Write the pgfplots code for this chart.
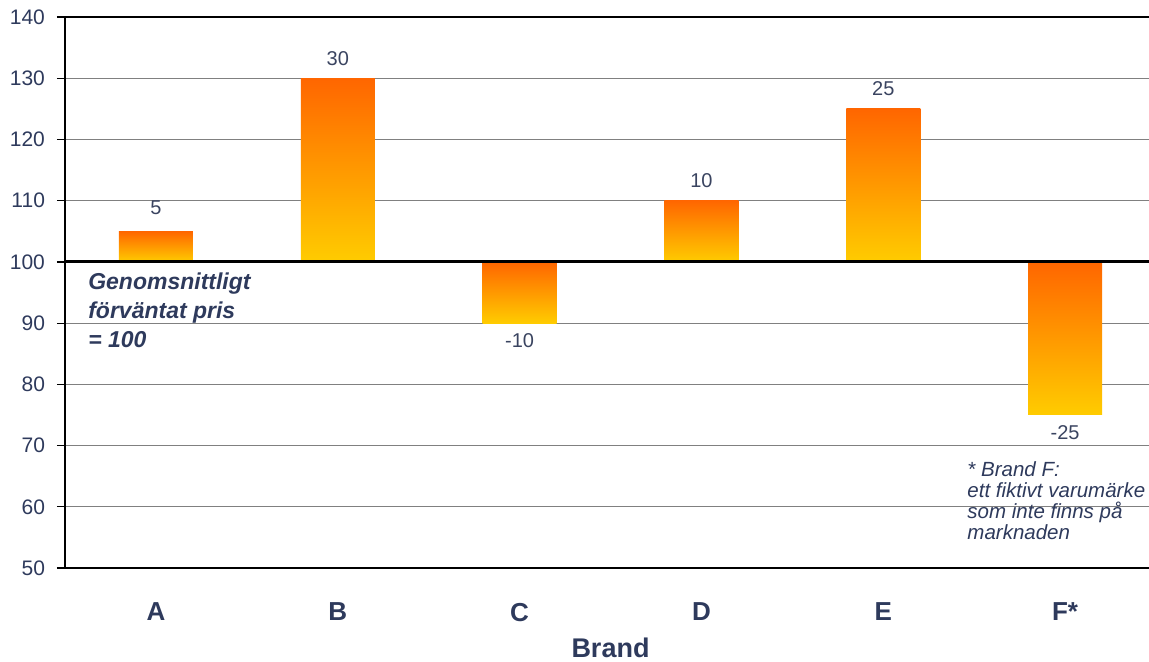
\documentclass[border=0pt]{standalone}
\usepackage{pgfplots}
\pgfplotsset{compat=1.18}
\usepackage{fontspec}
\setmainfont{Liberation Sans}
\definecolor{navy}{HTML}{2E3A5C}
\definecolor{valgray}{HTML}{3A4460}
\definecolor{topor}{HTML}{FF6600}
\definecolor{botyel}{HTML}{FFCC00}
\definecolor{gridg}{HTML}{808080}
\pgfplotsset{
  mybar/.style={ybar, bar width=0.407, bar shift=0pt, draw=none,
    shading=axis, top color=topor, bottom color=botyel,
    nodes near coords, point meta=explicit symbolic,
    every node near coord/.append style={font=\fontsize{10}{12}\selectfont, text=valgray, inner sep=5pt}},
  negbar/.style={mybar, every node near coord/.append style={anchor=north}},
  posbar/.style={mybar, every node near coord/.append style={anchor=south, inner sep=6.2pt}},
}
\begin{document}
\begin{tikzpicture}
\useasboundingbox (0,0) rectangle (574.5pt,330.5pt);
\clip (0,0) rectangle (574.5pt,330.5pt);
\begin{axis}[
  at={(32.5pt,46.5pt)}, anchor=south west,
  scale only axis, width=545.5pt, height=275.5pt,
  xmin=-0.5, xmax=5.5, ymin=-50, ymax=40,
  ytick={-50,-40,...,40},
  yticklabels={50,60,70,80,90,100,110,120,130,140},
  xtick={0,1,2,3,4,5},
  xticklabels={A,B,C,D,E,F*},
  major x tick style={draw=none},
  tick align=outside,
  major tick length=4pt,
  ytick style={black, line width=0.6pt},
  ymajorgrids,
  grid style={gridg, line width=0.5pt},
  axis line style={black, line width=0.8pt},
  yticklabel style={font=\fontsize{10.5}{12}\selectfont, text=navy, xshift=-2.5pt},
  xticklabel style={font=\fontsize{13}{15}\selectfont\bfseries, text=navy, yshift=-10pt},
  xlabel={Brand},
  xlabel style={font=\fontsize{13.5}{15}\selectfont\bfseries, text=navy, yshift=-1.5pt},
  /pgf/number format/assume math mode=true,
]
\addplot[posbar, every node near coord/.append style={inner sep=8pt}] coordinates {(0,5)[5]};
\addplot[posbar] coordinates {(1,30)[30]};
\addplot[negbar] coordinates {(2,-10)[-10]};
\addplot[posbar] coordinates {(3,10)[10]};
\addplot[posbar] coordinates {(4,25)[25]};
\addplot[negbar] coordinates {(5,-25)[-25]};
\addplot[black, line width=1.5pt] coordinates {(-0.5,0) (5.6,0)};
\addplot[black, line width=1pt] coordinates {(-0.5,40) (5.6,40)};
\node[anchor=north west, inner sep=0pt, align=left, text=navy, font=\fontsize{11.5}{14.3}\selectfont\bfseries\itshape] at (axis cs:-0.374,-1.8) {Genomsnittligt\\förväntat pris\\= 100};
\node[anchor=north west, inner sep=0pt, align=left, text=navy, font=\fontsize{10.25}{10.6}\selectfont\itshape] at (axis cs:4.461,-32.5) {* Brand F:\\ett fiktivt varumärke\\som inte finns på\\marknaden};
\end{axis}
\end{tikzpicture}
\end{document}
